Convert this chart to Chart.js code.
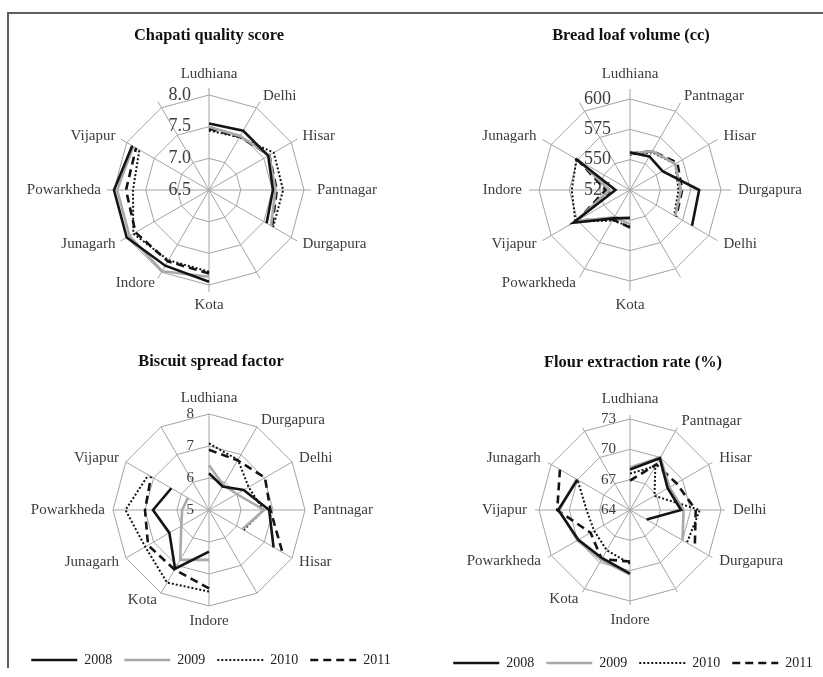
<!DOCTYPE html>
<html><head><meta charset="utf-8">
<script src="https://cdn.jsdelivr.net/npm/chart.js@4.4.1/dist/chart.umd.min.js"></script>
<style>
html,body{margin:0;padding:0;background:#fff;width:823px;height:677px;overflow:hidden;position:relative}
.frame-top{position:absolute;left:7px;top:12px;width:816px;height:2px;background:#5e5e5e}
.frame-left{position:absolute;left:7px;top:12px;width:2px;height:656px;background:#5e5e5e}
canvas{position:absolute}
</style></head><body>
<div class="frame-top"></div><div class="frame-left"></div>
<canvas id="c1" width="410" height="320" style="left:4px;top:0px"></canvas>
<canvas id="c2" width="410" height="320" style="left:426px;top:0px"></canvas>
<canvas id="c3" width="410" height="357" style="left:6px;top:320px"></canvas>
<canvas id="c4" width="410" height="360" style="left:428px;top:320px"></canvas>
<script>
// ---------- data ----------
const years = ['2008', '2009', '2010', '2011'];

const chapatiLabels = ['Ludhiana','Delhi','Hisar','Pantnagar','Durgapura','','Kota','Indore','Junagarh','Powarkheda','Vijapur',''];
const chapatiTickLabels = ['6.5','7.0','7.5','8.0'];
const chapati2008 = [7.55, 7.58, 7.58, 7.51, 7.55, null, 7.95, 7.88, 8.00, 8.00, 7.90, null];
const chapati2009 = [7.50, 7.48, 7.60, 7.55, 7.63, null, 7.87, 7.98, 7.95, 7.95, 7.88, null];
const chapati2010 = [7.44, 7.46, 7.68, 7.67, 7.67, null, 7.79, 7.78, 7.88, 7.70, 7.77, null];
const chapati2011 = [7.47, 7.47, 7.60, 7.57, 7.65, null, 7.82, 7.80, 7.84, 7.81, 7.83, null];

const breadLabels = ['Ludhiana','Pantnagar','Hisar','Durgapura','Delhi','','Kota','Powarkheda','Vijapur','Indore','Junagarh',''];
const breadTickLabels = ['525','550','575','600'];
const bread2008 = [556, 557, 556, 582, 584, null, 548, 552, 579, 537, 577, null];
const bread2009 = [555, 562, 568, 567, 568, null, 553, 551, 576, 542, 574, null];
const bread2010 = [554, 561, 568, 565, 567, null, 555, 554, 577, 573, 576, null];
const bread2011 = [555, 562, 570, 568, 569, null, 556, 553, 575, 545, 575, null];

const biscuitLabels = ['Ludhiana','Durgapura','Delhi','Pantnagar','Hisar','','Indore','Kota','Junagarh','Powarkheda','Vijapur',''];
const biscuitTickLabels = ['5','6','7','8'];
const biscuit2008 = [6.15, 5.85, 6.25, 6.88, 7.33, null, 6.30, 7.12, 6.43, 6.75, 6.36, null];
const biscuit2009 = [6.40, 5.90, 6.00, 6.72, 6.20, null, 6.56, 6.80, 6.00, 5.84, 5.76, null];
const biscuit2010 = [7.08, 6.81, 6.43, 6.70, 6.25, null, 7.55, 7.62, 7.30, 7.61, 7.19, null];
const biscuit2011 = [6.88, 6.79, 7.02, 6.92, 7.65, null, 7.45, 7.15, 7.20, 7.00, 7.09, null];

const flourLabels = ['Ludhiana','Pantnagar','Hisar','Delhi','Durgapura','','Indore','Kota','Powarkheda','Vijapur','Junagarh',''];
const flourTickLabels = ['64','67','70','73'];
const flour2008 = [68.0, 69.9, 68.3, 69.05, 65.9, null, 70.3, 69.5, 69.9, 71.1, 70.0, null];
const flour2009 = [68.2, 70.0, 68.5, 69.3, 70.0, null, 70.4, 69.7, 70.0, 71.0, 70.1, null];
const flour2010 = [67.6, 69.0, 66.8, 70.9, 70.5, null, 69.3, 68.6, 68.1, 68.3, 70.0, null];
const flour2011 = [66.9, 69.2, 69.3, 70.5, 71.4, null, 69.1, 69.6, 68.5, 71.2, 72.0, null];

// ---------- styles ----------
const SERIF = "'Liberation Serif', 'Times New Roman', serif";
const GRID = '#a4a4a4';
const TEXT = '#3c3c3c';
const seriesStyle = [
  {color: '#141414', width: 2.6, dash: []},
  {color: '#a9a9a9', width: 2.6, dash: []},
  {color: '#141414', width: 2.0, dash: [2, 2]},
  {color: '#141414', width: 2.6, dash: [8, 5]}
];

const radarText = {
  id: 'radarText',
  beforeDatasetsDraw(chart, args, o) {
    const s = chart.scales.r;
    const ctx = chart.ctx;
    const n = chart.data.labels.length;
    ctx.save();
    if (o.ext) {
      ctx.strokeStyle = GRID; ctx.lineWidth = 1;
      for (let i = 0; i < n; i++) {
        const a = s.getPointPosition(i, s.drawingArea);
        const b = s.getPointPosition(i, s.drawingArea + o.ext);
        ctx.beginPath(); ctx.moveTo(a.x, a.y); ctx.lineTo(b.x, b.y); ctx.stroke();
      }
    }
    ctx.fillStyle = TEXT;
    ctx.font = o.tickSize + 'px ' + SERIF;
    ctx.textAlign = 'right'; ctx.textBaseline = 'middle';
    s.ticks.forEach(t => {
      const d = s.getDistanceFromCenterForValue(t.value);
      ctx.fillText(t.label, s.xCenter - o.tickGap, s.yCenter - d);
    });
    ctx.font = '15px ' + SERIF;
    chart.data.labels.forEach((lab, i) => {
      if (!lab) return;
      const p = s.getPointPosition(i, o.labelDist);
      const deg = Math.round(i * 360 / n) % 360;
      let align = 'center', base = 'middle';
      if (deg === 0) base = 'bottom';
      else if (deg === 180) base = 'top';
      else align = deg < 180 ? 'left' : 'right';
      ctx.textAlign = align; ctx.textBaseline = base;
      ctx.fillText(lab, p.x, p.y);
    });
    ctx.restore();
  }
};

function legendItems(chart) {
  const items = Chart.defaults.plugins.legend.labels.generateLabels(chart);
  items.forEach(it => {
    const ds = chart.data.datasets[it.datasetIndex];
    it.lineDash = ds.borderDash;
    it.lineWidth = ds.borderWidth;
    it.strokeStyle = ds.borderColor;
    it.lineCap = 'butt';
  });
  return items;
}

function makeChart(id, cfg) {
  const datasets = cfg.series.map((vals, k) => ({
    label: years[k],
    data: vals,
    borderColor: seriesStyle[k].color,
    backgroundColor: 'transparent',
    borderWidth: seriesStyle[k].width,
    borderDash: seriesStyle[k].dash,
    borderCapStyle: 'butt',
    borderJoinStyle: 'miter',
    pointRadius: 0,
    pointHoverRadius: 0,
    fill: false,
    tension: 0,
    spanGaps: false
  }));
  return new Chart(document.getElementById(id), {
    type: 'radar',
    data: {labels: cfg.labels, datasets: datasets},
    options: {
      responsive: false,
      animation: false,
      events: [],
      layout: {padding: 0},
      plugins: {
        title: {display: true, text: cfg.title, color: '#111',
          font: {family: SERIF, size: 16.4, weight: 'bold', lineHeight: 1.2},
          padding: {top: cfg.titleTop, bottom: 0}},
        legend: {display: cfg.legend, position: 'bottom',
          labels: {usePointStyle: true, pointStyle: 'line', pointStyleWidth: 46, boxHeight: 14,
            padding: 12, color: '#222', font: {family: SERIF, size: 14}, generateLabels: legendItems}},
        tooltip: {enabled: false},
        radarText: {tickGap: cfg.tickGap, tickSize: cfg.tickSize, labelDist: cfg.labelDist, ext: cfg.ext}
      },
      scales: {
        r: {
          min: cfg.min, max: cfg.max,
          ticks: {display: false, stepSize: cfg.step, callback: (v, i) => cfg.tickLabels[i]},
          grid: {color: GRID, lineWidth: 1},
          angleLines: {color: GRID, lineWidth: 1},
          pointLabels: {display: false},
          afterSetDimensions(scale) {
            scale.xCenter = cfg.cx; scale.yCenter = cfg.cy; scale.drawingArea = cfg.R;
          }
        }
      }
    },
    plugins: [radarText]
  });
}

makeChart('c1', {title: 'Chapati quality score', titleTop: 26, labels: chapatiLabels,
  series: [chapati2008, chapati2009, chapati2010, chapati2011], tickLabels: chapatiTickLabels,
  min: 6.5, max: 8.0, step: 0.5, cx: 205, cy: 190, R: 95, tickGap: 18, tickSize: 18, labelDist: 108, ext: 7, legend: false});
makeChart('c2', {title: 'Bread loaf volume (cc)', titleTop: 26, labels: breadLabels,
  series: [bread2008, bread2009, bread2010, bread2011], tickLabels: breadTickLabels,
  min: 525, max: 600, step: 25, cx: 204, cy: 190, R: 91, tickGap: 19, tickSize: 18, labelDist: 108, ext: 10, legend: false});
makeChart('c3', {title: 'Biscuit spread factor', titleTop: 32, labels: biscuitLabels,
  series: [biscuit2008, biscuit2009, biscuit2010, biscuit2011], tickLabels: biscuitTickLabels,
  min: 5, max: 8, step: 1, cx: 203, cy: 190, R: 96, tickGap: 15, tickSize: 15, labelDist: 104, ext: 0, legend: true});
makeChart('c4', {title: 'Flour extraction rate (%)', titleTop: 33, labels: flourLabels,
  series: [flour2008, flour2009, flour2010, flour2011], tickLabels: flourTickLabels,
  min: 64, max: 73, step: 3, cx: 202, cy: 190, R: 91, tickGap: 14, tickSize: 15, labelDist: 103, ext: 4, legend: true});
</script>
</body></html>
